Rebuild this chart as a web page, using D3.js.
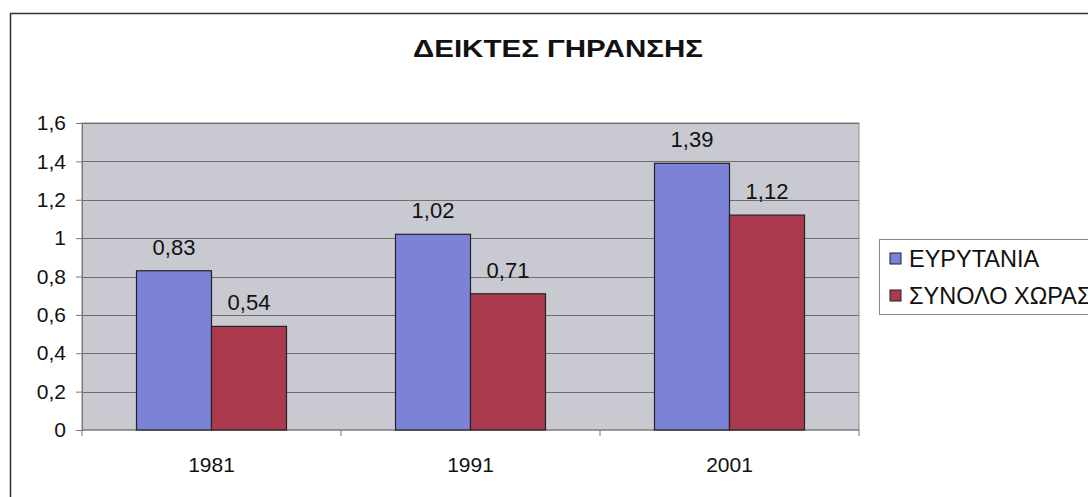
<!DOCTYPE html>
<html>
<head>
<meta charset="utf-8">
<script src="https://cdnjs.cloudflare.com/ajax/libs/d3/7.8.5/d3.min.js"></script>
<style>
  body { margin: 0; background: #fff; }
  text { font-family: "Liberation Sans", Arial, sans-serif; }
</style>
</head>
<body>
<div id="chart"></div>
<script>
// chart data
var years = ['1981', '1991', '2001'];
var seriesNames = ['ΕΥΡΥΤΑΝΙΑ', 'ΣΥΝΟΛΟ ΧΩΡΑΣ'];
var evrytania = [0.83, 1.02, 1.39];
var wholeCountry = [0.54, 0.71, 1.12];
var yTicks = [0, 0.2, 0.4, 0.6, 0.8, 1, 1.2, 1.4, 1.6];
var colors = ['#7c82d6', '#ab3a4f'];

var svgWidth = 1088;
var svgHeight = 497;

var svg = d3.select('#chart').append('svg')
  .attr('width', svgWidth)
  .attr('height', svgHeight);

// outer frame of the chart
svg.append('rect')
  .attr('x', 10.5).attr('y', 13.5)
  .attr('width', 1100).attr('height', 520)
  .attr('fill', '#fff')
  .attr('stroke', '#333')
  .attr('stroke-width', 1.5);

var plot = { left: 82, top: 123, right: 859, bottom: 430 };

var xScale = d3.scaleBand()
  .domain(years)
  .range([plot.left, plot.right]);

var yScale = d3.scaleLinear()
  .domain([0, 1.6])
  .range([plot.bottom, plot.top]);

var barWidth = 75;
var fontSize = 21;

// plot background
svg.append('rect')
  .attr('x', plot.left).attr('y', plot.top)
  .attr('width', plot.right - plot.left)
  .attr('height', plot.bottom - plot.top)
  .attr('fill', '#c9cad1')
  .attr('stroke', '#8a8a8a');

// gridlines
svg.selectAll('.grid')
  .data(yTicks.slice(1))
  .enter().append('line')
  .attr('x1', plot.left).attr('x2', plot.right)
  .attr('y1', function(d) { return Math.round(yScale(d)) + 0.5; })
  .attr('y2', function(d) { return Math.round(yScale(d)) + 0.5; })
  .attr('stroke', '#6e6e6e')
  .attr('stroke-width', 1);

// y axis
var yAxis = d3.axisLeft(yScale)
  .tickValues(yTicks)
  .tickSize(6)
  .tickFormat(function(d) { return String(d).replace('.', ','); });

var yg = svg.append('g')
  .attr('transform', 'translate(' + plot.left + ',0)')
  .call(yAxis);
yg.select('.domain').attr('stroke', '#777');
yg.selectAll('.tick line').attr('stroke', '#777');
yg.selectAll('.tick text')
  .attr('x', -16)
  .attr('font-size', fontSize)
  .attr('fill', '#111')
  .style('font-family', '"Liberation Sans", Arial, sans-serif');

// x axis with ticks at the category boundaries
var xg = svg.append('g')
  .attr('transform', 'translate(0,' + plot.bottom + ')');
xg.append('line')
  .attr('x1', plot.left).attr('x2', plot.right)
  .attr('stroke', '#777');
var boundaries = [plot.left].concat(years.map(function(y) { return xScale(y) + xScale.bandwidth(); }));
xg.selectAll('.xtick')
  .data(boundaries)
  .enter().append('line')
  .attr('x1', function(d) { return d; }).attr('x2', function(d) { return d; })
  .attr('y1', 0).attr('y2', 6)
  .attr('stroke', '#777');
xg.selectAll('.xlabel')
  .data(years)
  .enter().append('text')
  .attr('x', function(d) { return xScale(d) + xScale.bandwidth() / 2; })
  .attr('y', 42)
  .attr('text-anchor', 'middle')
  .attr('font-size', fontSize)
  .attr('fill', '#111')
  .text(function(d) { return d; });

// bars
var series = [evrytania, wholeCountry];
series.forEach(function(values, s) {
  var g = svg.append('g');
  g.selectAll('rect')
    .data(values)
    .enter().append('rect')
    .attr('x', function(d, i) { return xScale(years[i]) + xScale.bandwidth() / 2 - barWidth + s * barWidth; })
    .attr('y', function(d) { return yScale(d); })
    .attr('width', barWidth)
    .attr('height', function(d) { return plot.bottom - yScale(d); })
    .attr('fill', colors[s])
    .attr('stroke', '#222')
    .attr('stroke-width', 1.2);

  g.selectAll('text')
    .data(values)
    .enter().append('text')
    .attr('x', function(d, i) { return xScale(years[i]) + xScale.bandwidth() / 2 - barWidth / 2 + s * barWidth; })
    .attr('y', function(d) { return yScale(d) - 16; })
    .attr('text-anchor', 'middle')
    .attr('font-size', 22)
    .attr('fill', '#111')
    .text(function(d) { return String(d).replace('.', ','); });
});

// title
svg.append('text')
  .attr('x', 558).attr('y', 57)
  .attr('text-anchor', 'middle')
  .attr('font-size', 24)
  .attr('font-weight', 'bold')
  .attr('fill', '#111')
  .attr('textLength', 290)
  .attr('lengthAdjust', 'spacingAndGlyphs')
  .text('ΔΕΙΚΤΕΣ ΓΗΡΑΝΣΗΣ');

// legend
var legend = svg.append('g');
legend.append('rect')
  .attr('x', 879.5).attr('y', 239.5)
  .attr('width', 260).attr('height', 75)
  .attr('fill', '#fff')
  .attr('stroke', '#888');
var items = legend.selectAll('.item')
  .data(seriesNames)
  .enter().append('g')
  .attr('transform', function(d, i) { return 'translate(890,' + (259 + i * 37) + ')'; });
items.append('rect')
  .attr('x', 0).attr('y', -6)
  .attr('width', 11).attr('height', 11)
  .attr('fill', function(d, i) { return colors[i]; })
  .attr('stroke', '#222');
items.append('text')
  .attr('x', 19).attr('y', 8)
  .attr('font-size', 23.5)
  .attr('fill', '#111')
  .text(function(d) { return d; });
</script>
</body>
</html>
